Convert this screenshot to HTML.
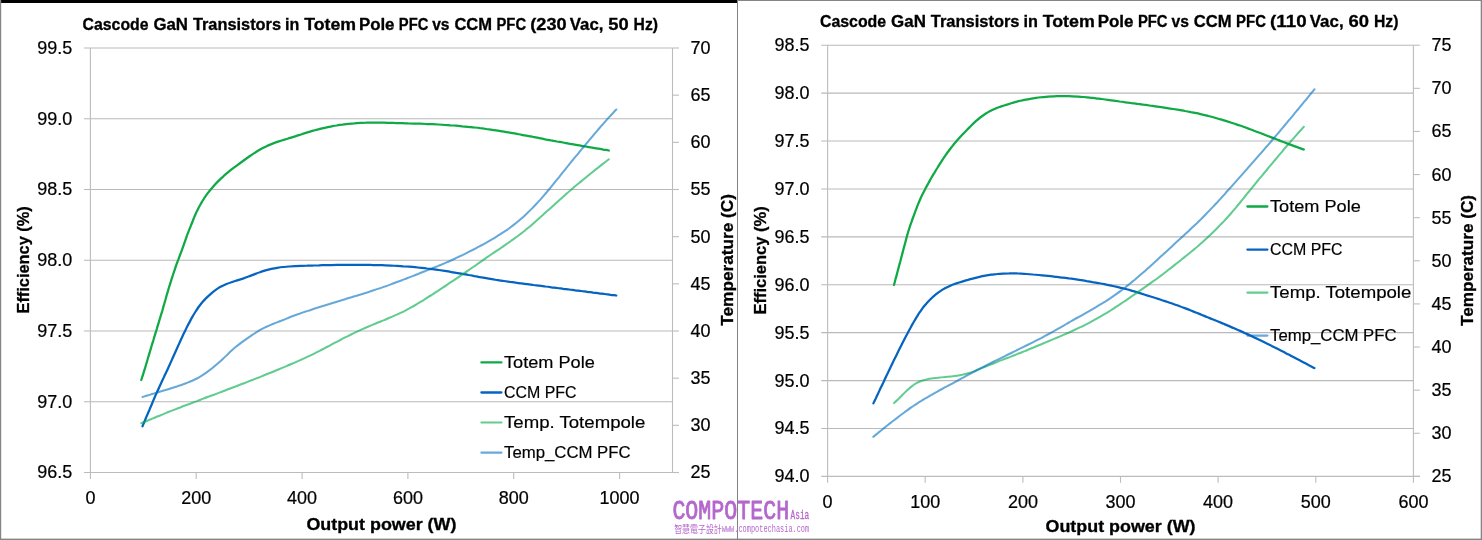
<!DOCTYPE html>
<html lang="en">
<head>
<meta charset="utf-8">
<title>Cascode GaN Transistors in Totem Pole PFC vs CCM PFC</title>
<style>
html,body{margin:0;padding:0;background:#fff;}
body{width:1482px;height:540px;overflow:hidden;}
svg{display:block;}
text{font-family:"Liberation Sans",sans-serif;fill:#000;}
.n{font-size:18.6px;stroke:#000;stroke-width:0.22px;}
.l{font-size:17.3px;stroke:#000;stroke-width:0.2px;}
.t{font-size:17.2px;font-weight:bold;stroke:#000;stroke-width:0.32px;}
.w1{font-family:"Liberation Mono","Liberation Sans",monospace;font-size:27px;fill:inherit;stroke:#b467cd;stroke-width:0.85px;stroke-linejoin:round;}
.w2{font-family:"Liberation Mono","Liberation Sans",monospace;font-size:13.5px;fill:inherit;stroke:#b467cd;stroke-width:0.3px;}
.w3{font-family:"Liberation Sans","Noto Sans CJK TC",sans-serif;font-size:10px;fill:inherit;}
.w4{font-family:"Liberation Mono","Liberation Sans",monospace;font-size:10.5px;fill:inherit;}
</style>
</head>
<body>
<svg width="1482" height="540" viewBox="0 0 1482 540">
<rect width="1482" height="540" fill="#fff"/>
<!-- left chart: 230 Vac, 50 Hz -->
<g>
<line x1="84.0" y1="48.00" x2="672.5" y2="48.00" stroke="#b9b9b9" stroke-width="1.1"/>
<text x="72.2" y="53.9" text-anchor="end" textLength="35.0" lengthAdjust="spacingAndGlyphs" class="n">99.5</text>
<line x1="84.0" y1="118.75" x2="672.5" y2="118.75" stroke="#b9b9b9" stroke-width="1.1"/>
<text x="72.2" y="124.7" text-anchor="end" textLength="35.0" lengthAdjust="spacingAndGlyphs" class="n">99.0</text>
<line x1="84.0" y1="189.50" x2="672.5" y2="189.50" stroke="#b9b9b9" stroke-width="1.1"/>
<text x="72.2" y="195.4" text-anchor="end" textLength="35.0" lengthAdjust="spacingAndGlyphs" class="n">98.5</text>
<line x1="84.0" y1="260.25" x2="672.5" y2="260.25" stroke="#b9b9b9" stroke-width="1.1"/>
<text x="72.2" y="266.1" text-anchor="end" textLength="35.0" lengthAdjust="spacingAndGlyphs" class="n">98.0</text>
<line x1="84.0" y1="331.00" x2="672.5" y2="331.00" stroke="#b9b9b9" stroke-width="1.1"/>
<text x="72.2" y="336.9" text-anchor="end" textLength="35.0" lengthAdjust="spacingAndGlyphs" class="n">97.5</text>
<line x1="84.0" y1="401.75" x2="672.5" y2="401.75" stroke="#b9b9b9" stroke-width="1.1"/>
<text x="72.2" y="407.6" text-anchor="end" textLength="35.0" lengthAdjust="spacingAndGlyphs" class="n">97.0</text>
<line x1="84.0" y1="472.50" x2="678.9" y2="472.50" stroke="#bcbcbc" stroke-width="1.1"/>
<text x="72.2" y="478.4" text-anchor="end" textLength="35.0" lengthAdjust="spacingAndGlyphs" class="n">96.5</text>
<line x1="672.5" y1="48.00" x2="678.9" y2="48.00" stroke="#bcbcbc" stroke-width="1.1"/>
<text x="690.6" y="53.9" text-anchor="start" textLength="20.0" lengthAdjust="spacingAndGlyphs" class="n">70</text>
<line x1="672.5" y1="95.17" x2="678.9" y2="95.17" stroke="#bcbcbc" stroke-width="1.1"/>
<text x="690.6" y="101.1" text-anchor="start" textLength="20.0" lengthAdjust="spacingAndGlyphs" class="n">65</text>
<line x1="672.5" y1="142.33" x2="678.9" y2="142.33" stroke="#bcbcbc" stroke-width="1.1"/>
<text x="690.6" y="148.2" text-anchor="start" textLength="20.0" lengthAdjust="spacingAndGlyphs" class="n">60</text>
<line x1="672.5" y1="189.50" x2="678.9" y2="189.50" stroke="#bcbcbc" stroke-width="1.1"/>
<text x="690.6" y="195.4" text-anchor="start" textLength="20.0" lengthAdjust="spacingAndGlyphs" class="n">55</text>
<line x1="672.5" y1="236.67" x2="678.9" y2="236.67" stroke="#bcbcbc" stroke-width="1.1"/>
<text x="690.6" y="242.6" text-anchor="start" textLength="20.0" lengthAdjust="spacingAndGlyphs" class="n">50</text>
<line x1="672.5" y1="283.83" x2="678.9" y2="283.83" stroke="#bcbcbc" stroke-width="1.1"/>
<text x="690.6" y="289.7" text-anchor="start" textLength="20.0" lengthAdjust="spacingAndGlyphs" class="n">45</text>
<line x1="672.5" y1="331.00" x2="678.9" y2="331.00" stroke="#bcbcbc" stroke-width="1.1"/>
<text x="690.6" y="336.9" text-anchor="start" textLength="20.0" lengthAdjust="spacingAndGlyphs" class="n">40</text>
<line x1="672.5" y1="378.17" x2="678.9" y2="378.17" stroke="#bcbcbc" stroke-width="1.1"/>
<text x="690.6" y="384.1" text-anchor="start" textLength="20.0" lengthAdjust="spacingAndGlyphs" class="n">35</text>
<line x1="672.5" y1="425.33" x2="678.9" y2="425.33" stroke="#bcbcbc" stroke-width="1.1"/>
<text x="690.6" y="431.2" text-anchor="start" textLength="20.0" lengthAdjust="spacingAndGlyphs" class="n">30</text>
<line x1="672.5" y1="472.50" x2="678.9" y2="472.50" stroke="#bcbcbc" stroke-width="1.1"/>
<text x="690.6" y="478.4" text-anchor="start" textLength="20.0" lengthAdjust="spacingAndGlyphs" class="n">25</text>
<line x1="90.4" y1="48.0" x2="90.4" y2="478.9" stroke="#bcbcbc" stroke-width="1.1"/>
<line x1="672.5" y1="48.0" x2="672.5" y2="472.5" stroke="#bcbcbc" stroke-width="1.1"/>
<text x="90.4" y="503.7" text-anchor="middle" textLength="10.0" lengthAdjust="spacingAndGlyphs" class="n">0</text>
<line x1="196.2" y1="472.5" x2="196.2" y2="478.9" stroke="#bcbcbc" stroke-width="1.1"/>
<text x="196.2" y="503.7" text-anchor="middle" textLength="30.0" lengthAdjust="spacingAndGlyphs" class="n">200</text>
<line x1="302.1" y1="472.5" x2="302.1" y2="478.9" stroke="#bcbcbc" stroke-width="1.1"/>
<text x="302.1" y="503.7" text-anchor="middle" textLength="30.0" lengthAdjust="spacingAndGlyphs" class="n">400</text>
<line x1="407.9" y1="472.5" x2="407.9" y2="478.9" stroke="#bcbcbc" stroke-width="1.1"/>
<text x="407.9" y="503.7" text-anchor="middle" textLength="30.0" lengthAdjust="spacingAndGlyphs" class="n">600</text>
<line x1="513.7" y1="472.5" x2="513.7" y2="478.9" stroke="#bcbcbc" stroke-width="1.1"/>
<text x="513.7" y="503.7" text-anchor="middle" textLength="30.0" lengthAdjust="spacingAndGlyphs" class="n">800</text>
<line x1="619.6" y1="472.5" x2="619.6" y2="478.9" stroke="#bcbcbc" stroke-width="1.1"/>
<text x="619.6" y="503.7" text-anchor="middle" textLength="40.0" lengthAdjust="spacingAndGlyphs" class="n">1000</text>
<line x1="481.4" y1="362.4" x2="501.4" y2="362.4" stroke="#0fa945" stroke-width="2.3" stroke-linecap="round"/>
<text x="504.0" y="368.1" textLength="90.8" lengthAdjust="spacingAndGlyphs" class="l">Totem Pole</text>
<line x1="481.4" y1="392.5" x2="501.4" y2="392.5" stroke="#0664c1" stroke-width="2.3" stroke-linecap="round"/>
<text x="504.0" y="398.2" textLength="72.6" lengthAdjust="spacingAndGlyphs" class="l">CCM PFC</text>
<line x1="481.4" y1="422.5" x2="501.4" y2="422.5" stroke="#62cd8e" stroke-width="2.2" stroke-linecap="round"/>
<text x="504.0" y="428.2" textLength="141.3" lengthAdjust="spacingAndGlyphs" class="l">Temp. Totempole</text>
<line x1="481.4" y1="452.6" x2="501.4" y2="452.6" stroke="#69a7dd" stroke-width="2.2" stroke-linecap="round"/>
<text x="504.0" y="458.3" textLength="126.6" lengthAdjust="spacingAndGlyphs" class="l">Temp_CCM PFC</text>
<path d="M141.3 380.0C141.6 379.0 142.5 376.2 143.1 374.3C143.7 372.4 144.3 370.5 144.9 368.6C145.5 366.6 146.1 364.7 146.6 362.8C147.2 360.9 147.7 359.0 148.3 357.0C148.9 355.1 149.4 353.2 150.0 351.3C150.6 349.4 151.2 347.5 151.7 345.5C152.3 343.6 152.9 341.7 153.5 339.8C154.0 337.9 154.6 336.0 155.2 334.1C155.8 332.1 156.4 330.2 157.0 328.3C157.5 326.4 158.1 324.5 158.7 322.6C159.3 320.7 159.9 318.8 160.4 316.8C161.0 314.9 161.6 313.0 162.2 311.1C162.7 309.2 163.3 307.3 163.8 305.3C164.4 303.4 164.9 301.5 165.5 299.6C166.0 297.6 166.6 295.7 167.1 293.8C167.7 291.9 168.3 290.0 168.8 288.0C169.4 286.1 170.0 284.2 170.6 282.3C171.2 280.4 171.8 278.5 172.4 276.6C173.0 274.7 173.7 272.8 174.3 270.9C174.9 269.0 175.6 267.1 176.2 265.2C176.9 263.3 177.6 261.4 178.3 259.6C179.0 257.7 179.7 255.8 180.4 254.0C181.1 252.1 181.9 250.2 182.5 248.4C183.2 246.5 183.9 244.6 184.5 242.7C185.2 240.8 185.8 238.9 186.5 237.0C187.1 235.1 187.8 233.3 188.6 231.4C189.3 229.5 190.1 227.7 190.8 225.8C191.6 224.0 192.3 222.1 193.0 220.3C193.8 218.4 194.5 216.5 195.3 214.7C196.1 212.9 197.0 211.1 197.9 209.3C198.7 207.5 199.7 205.7 200.7 204.0C201.7 202.3 202.7 200.5 203.8 198.9C204.9 197.2 206.0 195.5 207.2 193.9C208.4 192.3 209.6 190.8 210.9 189.2C212.2 187.7 213.5 186.2 214.8 184.7C216.2 183.2 217.6 181.8 219.0 180.4C220.4 179.0 221.9 177.6 223.4 176.3C224.8 174.9 226.4 173.6 227.9 172.4C229.4 171.1 231.0 169.9 232.6 168.6C234.2 167.4 235.8 166.3 237.4 165.1C239.0 163.9 240.6 162.7 242.3 161.5C243.9 160.3 245.5 159.2 247.1 158.0C248.7 156.8 250.4 155.7 252.0 154.6C253.7 153.5 255.4 152.4 257.1 151.3C258.8 150.3 260.5 149.3 262.3 148.3C264.0 147.4 265.8 146.5 267.6 145.7C269.5 144.9 271.3 144.1 273.2 143.4C275.1 142.7 277.0 142.0 278.8 141.4C280.7 140.8 282.7 140.2 284.6 139.6C286.5 139.0 288.4 138.5 290.3 137.9C292.2 137.3 294.1 136.7 296.0 136.1C297.9 135.5 299.8 134.8 301.7 134.2C303.7 133.6 305.6 133.0 307.5 132.4C309.4 131.8 311.3 131.2 313.2 130.7C315.1 130.2 317.1 129.6 319.0 129.2C320.9 128.7 322.9 128.2 324.8 127.8C326.8 127.4 328.7 127.0 330.7 126.6C332.7 126.2 334.6 125.8 336.6 125.5C338.6 125.1 340.5 124.8 342.5 124.6C344.5 124.3 346.5 124.0 348.4 123.8C350.4 123.6 352.4 123.4 354.4 123.3C356.4 123.1 358.4 123.0 360.4 122.9C362.4 122.8 364.4 122.7 366.4 122.7C368.4 122.6 370.4 122.6 372.4 122.6C374.4 122.6 376.4 122.6 378.4 122.6C380.4 122.6 382.4 122.7 384.3 122.7C386.3 122.8 388.3 122.8 390.3 122.9C392.3 122.9 394.3 123.0 396.3 123.0C398.3 123.1 400.3 123.2 402.3 123.2C404.3 123.3 406.3 123.3 408.3 123.4C410.3 123.4 412.3 123.5 414.3 123.6C416.3 123.6 418.3 123.7 420.3 123.7C422.3 123.8 424.3 123.9 426.3 124.0C428.3 124.0 430.3 124.1 432.3 124.2C434.3 124.3 436.3 124.4 438.3 124.5C440.3 124.6 442.3 124.7 444.3 124.9C446.3 125.0 448.3 125.1 450.3 125.3C452.3 125.4 454.3 125.6 456.3 125.7C458.3 125.9 460.3 126.1 462.2 126.3C464.2 126.4 466.2 126.6 468.2 126.8C470.2 127.0 472.2 127.3 474.2 127.5C476.2 127.7 478.1 127.9 480.1 128.2C482.1 128.4 484.1 128.7 486.1 129.0C488.1 129.3 490.0 129.5 492.0 129.8C494.0 130.1 496.0 130.4 497.9 130.7C499.9 131.1 501.9 131.4 503.9 131.7C505.8 132.0 507.8 132.4 509.8 132.7C511.8 133.0 513.7 133.4 515.7 133.7C517.7 134.1 519.6 134.4 521.6 134.8C523.6 135.2 525.5 135.5 527.5 135.9C529.5 136.3 531.4 136.6 533.4 137.0C535.4 137.4 537.3 137.8 539.3 138.1C541.3 138.5 543.2 138.9 545.2 139.3C547.1 139.6 549.1 140.0 551.1 140.4C553.0 140.7 555.0 141.1 557.0 141.5C558.9 141.8 560.9 142.2 562.9 142.5C564.8 142.9 566.8 143.2 568.8 143.6C570.8 143.9 572.7 144.3 574.7 144.6C576.7 144.9 578.6 145.3 580.6 145.6C582.5 146.0 584.5 146.3 586.4 146.6C588.4 147.0 590.3 147.3 592.2 147.6C594.1 148.0 596.0 148.3 597.9 148.6C599.7 148.9 601.6 149.2 603.4 149.6C605.2 149.9 607.9 150.3 608.8 150.5" fill="none" stroke="#0fa945" stroke-width="2.25" stroke-linecap="round" stroke-linejoin="round"/>
<path d="M142.5 426.3C142.9 425.4 144.0 422.6 144.8 420.8C145.6 418.9 146.4 417.1 147.1 415.2C147.9 413.4 148.7 411.5 149.5 409.7C150.2 407.9 151.0 406.0 151.8 404.2C152.6 402.3 153.4 400.5 154.1 398.7C154.9 396.8 155.7 395.0 156.5 393.1C157.3 391.3 158.2 389.5 159.0 387.7C159.8 385.9 160.7 384.0 161.5 382.2C162.4 380.4 163.2 378.6 164.1 376.8C164.9 375.0 165.8 373.2 166.6 371.4C167.5 369.6 168.3 367.7 169.1 365.9C170.0 364.1 170.8 362.3 171.6 360.4C172.4 358.6 173.2 356.8 174.0 355.0C174.8 353.1 175.7 351.3 176.5 349.5C177.3 347.7 178.1 345.8 179.0 344.0C179.8 342.2 180.6 340.4 181.5 338.6C182.3 336.8 183.1 334.9 184.0 333.1C184.9 331.3 185.7 329.5 186.6 327.7C187.5 325.9 188.4 324.2 189.4 322.4C190.3 320.6 191.2 318.9 192.2 317.1C193.2 315.4 194.2 313.7 195.3 312.0C196.4 310.3 197.5 308.6 198.6 307.0C199.8 305.4 201.0 303.8 202.3 302.3C203.6 300.8 205.0 299.3 206.4 297.9C207.8 296.5 209.3 295.1 210.8 293.8C212.3 292.5 213.8 291.2 215.4 290.1C217.1 288.9 218.7 287.8 220.5 286.8C222.2 285.9 224.0 285.0 225.9 284.2C227.7 283.5 229.6 282.8 231.5 282.2C233.4 281.6 235.3 281.0 237.2 280.4C239.1 279.8 241.0 279.2 242.9 278.6C244.8 277.9 246.7 277.2 248.6 276.5C250.4 275.8 252.3 275.1 254.2 274.4C256.0 273.7 257.9 272.9 259.8 272.3C261.7 271.6 263.6 271.0 265.5 270.4C267.4 269.9 269.3 269.4 271.3 268.9C273.2 268.5 275.2 268.1 277.2 267.8C279.1 267.5 281.1 267.2 283.1 267.0C285.1 266.8 287.1 266.7 289.1 266.5C291.1 266.4 293.1 266.3 295.1 266.2C297.1 266.1 299.1 266.0 301.1 265.9C303.1 265.8 305.1 265.7 307.1 265.7C309.1 265.6 311.1 265.5 313.1 265.5C315.1 265.4 317.1 265.3 319.1 265.3C321.1 265.2 323.1 265.2 325.1 265.1C327.1 265.1 329.1 265.0 331.1 265.0C333.1 265.0 335.1 265.0 337.1 264.9C339.1 264.9 341.1 264.9 343.1 264.9C345.1 264.9 347.1 264.8 349.1 264.8C351.1 264.8 353.1 264.8 355.1 264.8C357.1 264.8 359.1 264.8 361.1 264.9C363.1 264.9 365.1 264.9 367.1 264.9C369.1 264.9 371.1 265.0 373.1 265.0C375.1 265.0 377.1 265.1 379.1 265.1C381.1 265.2 383.1 265.2 385.1 265.3C387.1 265.4 389.1 265.5 391.0 265.6C393.0 265.7 395.0 265.8 397.0 265.9C399.0 266.0 401.0 266.1 403.0 266.3C405.0 266.4 407.0 266.6 409.0 266.7C411.0 266.9 413.0 267.1 415.0 267.2C417.0 267.4 419.0 267.6 421.0 267.8C422.9 268.0 424.9 268.2 426.9 268.5C428.9 268.7 430.9 269.0 432.9 269.2C434.8 269.5 436.8 269.7 438.8 270.0C440.8 270.3 442.8 270.6 444.7 270.9C446.7 271.2 448.7 271.5 450.7 271.9C452.6 272.2 454.6 272.5 456.6 272.9C458.5 273.2 460.5 273.6 462.5 273.9C464.5 274.3 466.4 274.6 468.4 275.0C470.4 275.3 472.3 275.7 474.3 276.1C476.3 276.4 478.2 276.8 480.2 277.2C482.2 277.5 484.1 277.9 486.1 278.2C488.1 278.6 490.0 278.9 492.0 279.2C494.0 279.5 496.0 279.9 497.9 280.2C499.9 280.5 501.9 280.7 503.9 281.0C505.8 281.3 507.8 281.6 509.8 281.9C511.8 282.1 513.8 282.4 515.8 282.7C517.7 282.9 519.7 283.2 521.7 283.4C523.7 283.7 525.7 283.9 527.7 284.2C529.6 284.5 531.6 284.7 533.6 285.0C535.6 285.2 537.6 285.5 539.6 285.7C541.5 286.0 543.5 286.2 545.5 286.5C547.5 286.7 549.5 287.0 551.5 287.3C553.4 287.5 555.4 287.8 557.4 288.0C559.4 288.3 561.4 288.5 563.4 288.8C565.3 289.0 567.3 289.3 569.3 289.5C571.3 289.8 573.3 290.0 575.3 290.3C577.2 290.5 579.2 290.8 581.2 291.0C583.2 291.3 585.2 291.5 587.2 291.8C589.1 292.1 591.1 292.3 593.1 292.6C595.0 292.8 597.0 293.1 599.0 293.3C600.9 293.5 602.9 293.8 604.8 294.0C606.7 294.3 608.7 294.5 610.6 294.8C612.5 295.0 615.3 295.4 616.3 295.5" fill="none" stroke="#0664c1" stroke-width="2.25" stroke-linecap="round" stroke-linejoin="round"/>
<path d="M141.3 423.3C142.2 422.9 145.0 421.7 146.8 421.0C148.7 420.2 150.5 419.4 152.4 418.6C154.2 417.9 156.0 417.1 157.9 416.3C159.7 415.6 161.6 414.8 163.4 414.1C165.3 413.3 167.2 412.6 169.0 411.8C170.9 411.1 172.7 410.4 174.6 409.6C176.5 408.9 178.3 408.2 180.2 407.5C182.1 406.7 183.9 406.0 185.8 405.3C187.7 404.6 189.5 403.9 191.4 403.2C193.3 402.5 195.1 401.8 197.0 401.1C198.9 400.3 200.8 399.6 202.6 398.9C204.5 398.2 206.4 397.5 208.2 396.8C210.1 396.1 212.0 395.4 213.9 394.7C215.7 394.0 217.6 393.3 219.5 392.6C221.3 391.9 223.2 391.2 225.1 390.5C227.0 389.8 228.8 389.1 230.7 388.3C232.6 387.6 234.4 386.9 236.3 386.2C238.2 385.5 240.0 384.8 241.9 384.0C243.8 383.3 245.6 382.6 247.5 381.9C249.4 381.1 251.2 380.4 253.1 379.7C254.9 378.9 256.8 378.2 258.7 377.5C260.5 376.7 262.4 376.0 264.2 375.2C266.1 374.5 267.9 373.8 269.8 373.0C271.6 372.3 273.5 371.5 275.3 370.7C277.2 370.0 279.0 369.2 280.9 368.4C282.7 367.7 284.6 366.9 286.4 366.1C288.3 365.4 290.1 364.6 291.9 363.8C293.8 363.0 295.6 362.2 297.4 361.4C299.3 360.6 301.1 359.8 302.9 358.9C304.7 358.1 306.6 357.3 308.4 356.4C310.2 355.6 312.0 354.7 313.8 353.8C315.6 352.9 317.3 352.0 319.1 351.1C320.9 350.2 322.7 349.3 324.4 348.4C326.2 347.4 328.0 346.5 329.7 345.6C331.5 344.6 333.3 343.7 335.0 342.7C336.8 341.8 338.6 340.9 340.4 340.0C342.1 339.0 343.9 338.1 345.7 337.2C347.5 336.3 349.3 335.4 351.1 334.5C352.9 333.7 354.7 332.8 356.5 331.9C358.3 331.1 360.1 330.2 361.9 329.4C363.7 328.6 365.5 327.8 367.4 327.0C369.2 326.2 371.0 325.4 372.9 324.6C374.7 323.8 376.6 323.1 378.4 322.3C380.3 321.6 382.1 320.8 384.0 320.1C385.8 319.3 387.7 318.6 389.5 317.8C391.4 317.0 393.2 316.2 395.0 315.4C396.9 314.6 398.7 313.8 400.5 312.9C402.3 312.1 404.1 311.2 405.8 310.3C407.6 309.3 409.4 308.4 411.1 307.4C412.9 306.5 414.6 305.5 416.3 304.5C418.0 303.4 419.7 302.4 421.4 301.4C423.1 300.3 424.8 299.3 426.5 298.2C428.2 297.1 429.9 296.0 431.6 295.0C433.3 293.9 434.9 292.8 436.6 291.7C438.3 290.6 439.9 289.5 441.6 288.4C443.3 287.3 445.0 286.2 446.6 285.1C448.3 284.0 449.9 282.9 451.6 281.7C453.3 280.6 454.9 279.5 456.6 278.4C458.2 277.3 459.9 276.2 461.6 275.0C463.2 273.9 464.9 272.8 466.5 271.6C468.1 270.5 469.8 269.4 471.4 268.2C473.1 267.1 474.7 265.9 476.4 264.8C478.0 263.6 479.6 262.5 481.3 261.4C482.9 260.2 484.6 259.1 486.2 257.9C487.8 256.8 489.5 255.7 491.1 254.5C492.8 253.4 494.4 252.3 496.1 251.1C497.7 250.0 499.4 248.9 501.1 247.8C502.7 246.6 504.4 245.5 506.0 244.4C507.7 243.3 509.3 242.1 510.9 241.0C512.6 239.8 514.2 238.7 515.8 237.5C517.4 236.3 519.0 235.1 520.6 233.9C522.2 232.7 523.7 231.5 525.3 230.2C526.8 228.9 528.4 227.7 529.9 226.4C531.4 225.1 532.9 223.8 534.4 222.4C535.9 221.1 537.4 219.8 538.9 218.5C540.4 217.1 541.9 215.8 543.4 214.5C544.9 213.1 546.4 211.8 547.8 210.4C549.3 209.1 550.8 207.8 552.3 206.4C553.8 205.1 555.3 203.7 556.8 202.4C558.2 201.1 559.7 199.7 561.2 198.4C562.7 197.1 564.2 195.8 565.7 194.4C567.2 193.1 568.7 191.8 570.3 190.5C571.8 189.2 573.3 187.9 574.8 186.6C576.3 185.3 577.9 184.0 579.4 182.8C580.9 181.5 582.5 180.2 584.0 178.9C585.6 177.7 587.1 176.4 588.6 175.2C590.2 173.9 591.7 172.7 593.2 171.5C594.8 170.2 596.3 169.0 597.8 167.9C599.3 166.7 600.8 165.5 602.2 164.4C603.7 163.2 605.5 161.8 606.6 161.0C607.7 160.1 608.4 159.6 608.8 159.3" fill="none" stroke="#02ac4c" stroke-width="2.05" stroke-opacity="0.62" stroke-linecap="round" stroke-linejoin="round"/>
<path d="M142.5 397.0C143.5 396.7 146.3 395.9 148.2 395.3C150.2 394.7 152.1 394.1 154.0 393.6C155.9 393.0 157.8 392.4 159.7 391.8C161.7 391.3 163.6 390.7 165.5 390.1C167.4 389.5 169.3 388.9 171.2 388.3C173.1 387.7 175.0 387.1 176.9 386.5C178.8 385.8 180.7 385.2 182.6 384.5C184.5 383.8 186.3 383.1 188.2 382.4C190.0 381.6 191.9 380.9 193.7 380.0C195.5 379.2 197.3 378.3 199.0 377.3C200.8 376.3 202.5 375.2 204.1 374.1C205.8 373.0 207.4 371.8 209.0 370.6C210.6 369.4 212.2 368.2 213.7 366.9C215.3 365.6 216.8 364.3 218.3 363.0C219.8 361.7 221.3 360.4 222.8 359.0C224.2 357.7 225.7 356.3 227.1 354.9C228.6 353.5 230.0 352.1 231.4 350.8C232.9 349.4 234.4 348.1 235.9 346.8C237.5 345.5 239.0 344.3 240.6 343.1C242.2 341.9 243.9 340.8 245.5 339.6C247.2 338.5 248.8 337.3 250.5 336.2C252.1 335.1 253.7 333.9 255.4 332.8C257.1 331.8 258.8 330.7 260.6 329.7C262.3 328.8 264.1 327.8 265.9 327.0C267.7 326.2 269.5 325.4 271.4 324.6C273.2 323.9 275.1 323.1 277.0 322.4C278.8 321.7 280.7 320.9 282.5 320.2C284.4 319.4 286.3 318.7 288.1 318.0C290.0 317.2 291.8 316.5 293.7 315.8C295.6 315.1 297.5 314.4 299.4 313.8C301.2 313.1 303.1 312.4 305.0 311.8C306.9 311.2 308.8 310.5 310.7 309.9C312.6 309.3 314.5 308.7 316.4 308.0C318.3 307.4 320.2 306.8 322.1 306.2C324.0 305.6 325.9 305.0 327.9 304.4C329.8 303.9 331.7 303.3 333.6 302.7C335.5 302.1 337.4 301.5 339.3 300.9C341.3 300.4 343.2 299.8 345.1 299.2C347.0 298.6 348.9 298.1 350.8 297.5C352.7 296.9 354.7 296.3 356.6 295.7C358.5 295.2 360.4 294.6 362.3 294.0C364.2 293.4 366.1 292.8 368.0 292.2C369.9 291.6 371.8 291.0 373.7 290.3C375.6 289.7 377.5 289.1 379.4 288.4C381.3 287.8 383.2 287.1 385.1 286.4C387.0 285.8 388.8 285.1 390.7 284.4C392.6 283.7 394.5 283.0 396.3 282.3C398.2 281.6 400.1 280.9 402.0 280.2C403.8 279.5 405.7 278.8 407.6 278.0C409.4 277.3 411.3 276.6 413.2 275.9C415.0 275.2 416.9 274.4 418.7 273.7C420.6 273.0 422.5 272.2 424.3 271.5C426.2 270.8 428.1 270.0 429.9 269.3C431.8 268.6 433.6 267.8 435.5 267.0C437.3 266.3 439.2 265.5 441.0 264.8C442.9 264.0 444.7 263.2 446.5 262.4C448.4 261.6 450.2 260.8 452.0 260.0C453.8 259.1 455.6 258.3 457.4 257.4C459.3 256.6 461.1 255.7 462.9 254.9C464.7 254.0 466.4 253.1 468.2 252.2C470.0 251.3 471.8 250.4 473.6 249.5C475.4 248.6 477.1 247.6 478.9 246.7C480.7 245.7 482.4 244.8 484.2 243.8C485.9 242.9 487.7 241.9 489.4 240.9C491.1 239.9 492.8 238.9 494.6 237.9C496.3 236.8 498.0 235.8 499.6 234.7C501.3 233.6 503.0 232.5 504.7 231.4C506.3 230.3 507.9 229.2 509.6 228.0C511.2 226.8 512.8 225.6 514.3 224.4C515.9 223.1 517.4 221.9 519.0 220.6C520.5 219.3 522.0 218.0 523.5 216.7C525.0 215.3 526.4 214.0 527.8 212.6C529.3 211.2 530.7 209.8 532.1 208.4C533.5 206.9 534.9 205.5 536.2 204.0C537.6 202.6 538.9 201.1 540.3 199.6C541.6 198.1 542.9 196.6 544.2 195.1C545.5 193.6 546.8 192.1 548.1 190.5C549.4 189.0 550.7 187.5 551.9 185.9C553.2 184.4 554.5 182.8 555.7 181.2C557.0 179.7 558.2 178.1 559.5 176.6C560.7 175.0 562.0 173.4 563.2 171.9C564.5 170.3 565.7 168.8 567.0 167.2C568.2 165.6 569.5 164.1 570.7 162.5C572.0 161.0 573.3 159.4 574.5 157.9C575.8 156.4 577.1 154.8 578.4 153.3C579.6 151.7 580.9 150.2 582.2 148.7C583.5 147.1 584.8 145.6 586.0 144.0C587.3 142.5 588.6 141.0 589.9 139.4C591.2 137.9 592.4 136.4 593.7 134.8C595.0 133.3 596.3 131.8 597.6 130.3C598.9 128.8 600.2 127.2 601.5 125.7C602.8 124.3 604.1 122.8 605.4 121.3C606.7 119.8 608.0 118.4 609.4 116.9C610.7 115.5 612.2 113.9 613.3 112.7C614.5 111.4 615.8 110.0 616.3 109.5" fill="none" stroke="#0070c0" stroke-width="2.05" stroke-opacity="0.6" stroke-linecap="round" stroke-linejoin="round"/>
<text y="30.3" class="t"><tspan x="82.6" textLength="65.9" lengthAdjust="spacingAndGlyphs">Cascode</tspan> <tspan x="153.4" textLength="34.6" lengthAdjust="spacingAndGlyphs">GaN</tspan> <tspan x="192.9" textLength="88.2" lengthAdjust="spacingAndGlyphs">Transistors</tspan> <tspan x="285.0" textLength="14.3" lengthAdjust="spacingAndGlyphs">in</tspan> <tspan x="304.2" textLength="51.8" lengthAdjust="spacingAndGlyphs">Totem</tspan> <tspan x="358.9" textLength="35.6" lengthAdjust="spacingAndGlyphs">Pole</tspan> <tspan x="398.8" textLength="29.5" lengthAdjust="spacingAndGlyphs">PFC</tspan> <tspan x="432.2" textLength="17.3" lengthAdjust="spacingAndGlyphs">vs</tspan> <tspan x="454.4" textLength="37.7" lengthAdjust="spacingAndGlyphs">CCM</tspan> <tspan x="496.5" textLength="29.6" lengthAdjust="spacingAndGlyphs">PFC</tspan> <tspan x="530.3" textLength="36.3" lengthAdjust="spacingAndGlyphs">(230</tspan> <tspan x="569.8" textLength="33.6" lengthAdjust="spacingAndGlyphs">Vac,</tspan> <tspan x="608.3" textLength="20.4" lengthAdjust="spacingAndGlyphs">50</tspan> <tspan x="633.6" textLength="24.4" lengthAdjust="spacingAndGlyphs">Hz)</tspan></text>
<text x="381.4" y="530.3" text-anchor="middle" textLength="150" lengthAdjust="spacingAndGlyphs" class="t">Output power (W)</text>
<text transform="translate(29.0 259.9) rotate(-90)" text-anchor="middle" textLength="107.2" lengthAdjust="spacingAndGlyphs" class="t">Efficiency (%)</text>
<text transform="translate(732.8 259.9) rotate(-90)" text-anchor="middle" textLength="131.6" lengthAdjust="spacingAndGlyphs" class="t">Temperature (C)</text>
</g>
<!-- right chart: 110 Vac, 60 Hz -->
<g>
<line x1="821.2" y1="45.20" x2="1413.4" y2="45.20" stroke="#b9b9b9" stroke-width="1.1"/>
<text x="809.6" y="51.1" text-anchor="end" textLength="35.0" lengthAdjust="spacingAndGlyphs" class="n">98.5</text>
<line x1="821.2" y1="93.11" x2="1413.4" y2="93.11" stroke="#b9b9b9" stroke-width="1.1"/>
<text x="809.6" y="99.0" text-anchor="end" textLength="35.0" lengthAdjust="spacingAndGlyphs" class="n">98.0</text>
<line x1="821.2" y1="141.02" x2="1413.4" y2="141.02" stroke="#b9b9b9" stroke-width="1.1"/>
<text x="809.6" y="146.9" text-anchor="end" textLength="35.0" lengthAdjust="spacingAndGlyphs" class="n">97.5</text>
<line x1="821.2" y1="188.93" x2="1413.4" y2="188.93" stroke="#b9b9b9" stroke-width="1.1"/>
<text x="809.6" y="194.8" text-anchor="end" textLength="35.0" lengthAdjust="spacingAndGlyphs" class="n">97.0</text>
<line x1="821.2" y1="236.84" x2="1413.4" y2="236.84" stroke="#b9b9b9" stroke-width="1.1"/>
<text x="809.6" y="242.7" text-anchor="end" textLength="35.0" lengthAdjust="spacingAndGlyphs" class="n">96.5</text>
<line x1="821.2" y1="284.76" x2="1413.4" y2="284.76" stroke="#b9b9b9" stroke-width="1.1"/>
<text x="809.6" y="290.7" text-anchor="end" textLength="35.0" lengthAdjust="spacingAndGlyphs" class="n">96.0</text>
<line x1="821.2" y1="332.67" x2="1413.4" y2="332.67" stroke="#b9b9b9" stroke-width="1.1"/>
<text x="809.6" y="338.6" text-anchor="end" textLength="35.0" lengthAdjust="spacingAndGlyphs" class="n">95.5</text>
<line x1="821.2" y1="380.58" x2="1413.4" y2="380.58" stroke="#b9b9b9" stroke-width="1.1"/>
<text x="809.6" y="386.5" text-anchor="end" textLength="35.0" lengthAdjust="spacingAndGlyphs" class="n">95.0</text>
<line x1="821.2" y1="428.49" x2="1413.4" y2="428.49" stroke="#b9b9b9" stroke-width="1.1"/>
<text x="809.6" y="434.4" text-anchor="end" textLength="35.0" lengthAdjust="spacingAndGlyphs" class="n">94.5</text>
<line x1="821.2" y1="476.40" x2="1419.8" y2="476.40" stroke="#bcbcbc" stroke-width="1.1"/>
<text x="809.6" y="482.3" text-anchor="end" textLength="35.0" lengthAdjust="spacingAndGlyphs" class="n">94.0</text>
<line x1="1413.4" y1="45.20" x2="1419.8" y2="45.20" stroke="#bcbcbc" stroke-width="1.1"/>
<text x="1431.4" y="51.1" text-anchor="start" textLength="20.0" lengthAdjust="spacingAndGlyphs" class="n">75</text>
<line x1="1413.4" y1="88.32" x2="1419.8" y2="88.32" stroke="#bcbcbc" stroke-width="1.1"/>
<text x="1431.4" y="94.2" text-anchor="start" textLength="20.0" lengthAdjust="spacingAndGlyphs" class="n">70</text>
<line x1="1413.4" y1="131.44" x2="1419.8" y2="131.44" stroke="#bcbcbc" stroke-width="1.1"/>
<text x="1431.4" y="137.3" text-anchor="start" textLength="20.0" lengthAdjust="spacingAndGlyphs" class="n">65</text>
<line x1="1413.4" y1="174.56" x2="1419.8" y2="174.56" stroke="#bcbcbc" stroke-width="1.1"/>
<text x="1431.4" y="180.5" text-anchor="start" textLength="20.0" lengthAdjust="spacingAndGlyphs" class="n">60</text>
<line x1="1413.4" y1="217.68" x2="1419.8" y2="217.68" stroke="#bcbcbc" stroke-width="1.1"/>
<text x="1431.4" y="223.6" text-anchor="start" textLength="20.0" lengthAdjust="spacingAndGlyphs" class="n">55</text>
<line x1="1413.4" y1="260.80" x2="1419.8" y2="260.80" stroke="#bcbcbc" stroke-width="1.1"/>
<text x="1431.4" y="266.7" text-anchor="start" textLength="20.0" lengthAdjust="spacingAndGlyphs" class="n">50</text>
<line x1="1413.4" y1="303.92" x2="1419.8" y2="303.92" stroke="#bcbcbc" stroke-width="1.1"/>
<text x="1431.4" y="309.8" text-anchor="start" textLength="20.0" lengthAdjust="spacingAndGlyphs" class="n">45</text>
<line x1="1413.4" y1="347.04" x2="1419.8" y2="347.04" stroke="#bcbcbc" stroke-width="1.1"/>
<text x="1431.4" y="352.9" text-anchor="start" textLength="20.0" lengthAdjust="spacingAndGlyphs" class="n">40</text>
<line x1="1413.4" y1="390.16" x2="1419.8" y2="390.16" stroke="#bcbcbc" stroke-width="1.1"/>
<text x="1431.4" y="396.1" text-anchor="start" textLength="20.0" lengthAdjust="spacingAndGlyphs" class="n">35</text>
<line x1="1413.4" y1="433.28" x2="1419.8" y2="433.28" stroke="#bcbcbc" stroke-width="1.1"/>
<text x="1431.4" y="439.2" text-anchor="start" textLength="20.0" lengthAdjust="spacingAndGlyphs" class="n">30</text>
<line x1="1413.4" y1="476.40" x2="1419.8" y2="476.40" stroke="#bcbcbc" stroke-width="1.1"/>
<text x="1431.4" y="482.3" text-anchor="start" textLength="20.0" lengthAdjust="spacingAndGlyphs" class="n">25</text>
<line x1="827.6" y1="45.2" x2="827.6" y2="482.8" stroke="#bcbcbc" stroke-width="1.1"/>
<line x1="1413.4" y1="45.2" x2="1413.4" y2="476.4" stroke="#bcbcbc" stroke-width="1.1"/>
<text x="827.6" y="507.8" text-anchor="middle" textLength="10.0" lengthAdjust="spacingAndGlyphs" class="n">0</text>
<line x1="925.2" y1="476.4" x2="925.2" y2="482.8" stroke="#bcbcbc" stroke-width="1.1"/>
<text x="925.2" y="507.8" text-anchor="middle" textLength="30.0" lengthAdjust="spacingAndGlyphs" class="n">100</text>
<line x1="1022.9" y1="476.4" x2="1022.9" y2="482.8" stroke="#bcbcbc" stroke-width="1.1"/>
<text x="1022.9" y="507.8" text-anchor="middle" textLength="30.0" lengthAdjust="spacingAndGlyphs" class="n">200</text>
<line x1="1120.5" y1="476.4" x2="1120.5" y2="482.8" stroke="#bcbcbc" stroke-width="1.1"/>
<text x="1120.5" y="507.8" text-anchor="middle" textLength="30.0" lengthAdjust="spacingAndGlyphs" class="n">300</text>
<line x1="1218.1" y1="476.4" x2="1218.1" y2="482.8" stroke="#bcbcbc" stroke-width="1.1"/>
<text x="1218.1" y="507.8" text-anchor="middle" textLength="30.0" lengthAdjust="spacingAndGlyphs" class="n">400</text>
<line x1="1315.8" y1="476.4" x2="1315.8" y2="482.8" stroke="#bcbcbc" stroke-width="1.1"/>
<text x="1315.8" y="507.8" text-anchor="middle" textLength="30.0" lengthAdjust="spacingAndGlyphs" class="n">500</text>
<line x1="1413.4" y1="476.4" x2="1413.4" y2="482.8" stroke="#bcbcbc" stroke-width="1.1"/>
<text x="1413.4" y="507.8" text-anchor="middle" textLength="30.0" lengthAdjust="spacingAndGlyphs" class="n">600</text>
<line x1="1247.4" y1="206.5" x2="1267.4" y2="206.5" stroke="#0fa945" stroke-width="2.3" stroke-linecap="round"/>
<text x="1270.0" y="212.2" textLength="90.8" lengthAdjust="spacingAndGlyphs" class="l">Totem Pole</text>
<line x1="1247.4" y1="249.6" x2="1267.4" y2="249.6" stroke="#0664c1" stroke-width="2.3" stroke-linecap="round"/>
<text x="1270.0" y="255.2" textLength="72.6" lengthAdjust="spacingAndGlyphs" class="l">CCM PFC</text>
<line x1="1247.4" y1="292.6" x2="1267.4" y2="292.6" stroke="#62cd8e" stroke-width="2.2" stroke-linecap="round"/>
<text x="1270.0" y="298.3" textLength="141.3" lengthAdjust="spacingAndGlyphs" class="l">Temp. Totempole</text>
<line x1="1247.4" y1="335.6" x2="1267.4" y2="335.6" stroke="#69a7dd" stroke-width="2.2" stroke-linecap="round"/>
<text x="1270.0" y="341.3" textLength="126.6" lengthAdjust="spacingAndGlyphs" class="l">Temp_CCM PFC</text>
<path d="M894.0 285.0C894.3 284.0 895.0 281.1 895.5 279.2C896.1 277.3 896.6 275.3 897.1 273.4C897.6 271.5 898.1 269.5 898.6 267.6C899.1 265.7 899.6 263.7 900.2 261.8C900.7 259.9 901.2 257.9 901.7 256.0C902.2 254.1 902.7 252.1 903.2 250.2C903.7 248.3 904.2 246.3 904.8 244.4C905.3 242.5 905.8 240.5 906.3 238.6C906.8 236.7 907.3 234.7 907.9 232.8C908.5 230.9 909.1 229.0 909.7 227.1C910.3 225.2 911.0 223.3 911.7 221.4C912.3 219.5 913.0 217.7 913.7 215.8C914.4 213.9 915.1 212.0 915.8 210.2C916.5 208.3 917.2 206.4 917.9 204.6C918.7 202.7 919.5 200.9 920.3 199.0C921.1 197.2 922.0 195.4 922.9 193.6C923.8 191.8 924.7 190.1 925.6 188.3C926.6 186.5 927.5 184.8 928.5 183.0C929.5 181.3 930.4 179.5 931.4 177.8C932.4 176.1 933.4 174.3 934.5 172.6C935.5 170.9 936.5 169.2 937.6 167.5C938.6 165.8 939.7 164.1 940.8 162.4C941.8 160.7 943.0 159.1 944.1 157.4C945.2 155.8 946.4 154.1 947.5 152.5C948.7 150.9 949.9 149.3 951.1 147.7C952.3 146.1 953.6 144.6 954.9 143.0C956.2 141.5 957.5 140.0 958.8 138.5C960.2 137.0 961.5 135.6 962.9 134.1C964.3 132.7 965.7 131.2 967.1 129.8C968.5 128.4 969.9 126.9 971.3 125.5C972.7 124.1 974.2 122.7 975.6 121.4C977.1 120.1 978.6 118.7 980.2 117.5C981.8 116.3 983.4 115.1 985.1 114.0C986.7 112.9 988.5 111.9 990.2 111.0C992.0 110.1 993.8 109.3 995.7 108.5C997.5 107.7 999.4 107.1 1001.3 106.4C1003.2 105.8 1005.1 105.2 1007.0 104.6C1008.9 104.0 1010.8 103.4 1012.7 102.8C1014.7 102.3 1016.6 101.7 1018.5 101.2C1020.4 100.7 1022.4 100.3 1024.3 99.9C1026.3 99.5 1028.3 99.1 1030.2 98.8C1032.2 98.5 1034.2 98.2 1036.1 97.9C1038.1 97.6 1040.1 97.4 1042.1 97.2C1044.0 96.9 1046.0 96.8 1048.0 96.6C1050.0 96.5 1052.0 96.4 1054.0 96.3C1056.0 96.2 1058.0 96.2 1060.0 96.1C1062.0 96.1 1064.0 96.1 1066.0 96.1C1068.0 96.2 1070.0 96.2 1072.0 96.3C1074.0 96.4 1076.0 96.5 1078.0 96.6C1079.9 96.7 1081.9 96.9 1083.9 97.0C1085.9 97.2 1087.9 97.4 1089.9 97.6C1091.9 97.8 1093.9 98.1 1095.9 98.3C1097.8 98.5 1099.8 98.8 1101.8 99.0C1103.8 99.3 1105.8 99.6 1107.8 99.8C1109.7 100.1 1111.7 100.4 1113.7 100.6C1115.7 100.9 1117.7 101.2 1119.6 101.5C1121.6 101.7 1123.6 102.0 1125.6 102.3C1127.6 102.5 1129.5 102.8 1131.5 103.1C1133.5 103.3 1135.5 103.6 1137.5 103.9C1139.5 104.1 1141.4 104.4 1143.4 104.7C1145.4 104.9 1147.4 105.2 1149.4 105.5C1151.3 105.8 1153.3 106.0 1155.3 106.3C1157.3 106.6 1159.3 106.9 1161.2 107.2C1163.2 107.5 1165.2 107.8 1167.2 108.1C1169.2 108.4 1171.1 108.7 1173.1 109.0C1175.1 109.3 1177.1 109.6 1179.0 109.9C1181.0 110.3 1183.0 110.6 1184.9 111.0C1186.9 111.3 1188.9 111.7 1190.8 112.1C1192.8 112.4 1194.8 112.8 1196.7 113.2C1198.7 113.7 1200.6 114.1 1202.6 114.6C1204.5 115.0 1206.4 115.5 1208.4 116.0C1210.3 116.5 1212.3 117.0 1214.2 117.5C1216.1 118.0 1218.0 118.6 1219.9 119.2C1221.9 119.7 1223.8 120.3 1225.7 120.9C1227.6 121.5 1229.5 122.1 1231.4 122.7C1233.3 123.3 1235.2 123.9 1237.1 124.6C1239.0 125.2 1240.9 125.9 1242.8 126.5C1244.7 127.2 1246.5 127.9 1248.4 128.6C1250.3 129.3 1252.2 129.9 1254.0 130.7C1255.9 131.4 1257.8 132.1 1259.6 132.8C1261.5 133.5 1263.4 134.2 1265.2 135.0C1267.1 135.7 1269.0 136.4 1270.8 137.1C1272.7 137.9 1274.5 138.6 1276.4 139.3C1278.3 140.0 1280.1 140.8 1282.0 141.5C1283.8 142.2 1285.7 142.9 1287.5 143.6C1289.3 144.3 1291.2 145.0 1293.0 145.6C1294.8 146.3 1296.6 146.9 1298.4 147.6C1300.2 148.2 1302.9 149.2 1303.8 149.5" fill="none" stroke="#0fa945" stroke-width="2.25" stroke-linecap="round" stroke-linejoin="round"/>
<path d="M873.4 403.4C873.8 402.5 875.1 399.8 876.0 398.0C876.8 396.2 877.7 394.4 878.5 392.6C879.4 390.7 880.2 388.9 881.1 387.1C882.0 385.3 882.8 383.5 883.7 381.7C884.5 379.9 885.4 378.1 886.2 376.3C887.1 374.5 888.0 372.7 888.8 370.9C889.7 369.1 890.5 367.3 891.4 365.5C892.3 363.7 893.1 361.9 894.0 360.1C894.9 358.3 895.8 356.5 896.7 354.7C897.6 352.9 898.4 351.1 899.3 349.3C900.2 347.5 901.1 345.7 902.0 343.9C903.0 342.2 903.9 340.4 904.8 338.6C905.7 336.8 906.6 335.1 907.6 333.3C908.5 331.5 909.4 329.8 910.4 328.0C911.3 326.2 912.3 324.5 913.3 322.7C914.3 321.0 915.3 319.3 916.3 317.6C917.4 315.9 918.4 314.2 919.5 312.5C920.7 310.9 921.8 309.2 923.0 307.6C924.3 306.1 925.5 304.5 926.9 303.0C928.2 301.6 929.6 300.1 931.0 298.7C932.5 297.3 933.9 296.0 935.5 294.7C937.0 293.4 938.6 292.2 940.3 291.1C941.9 290.0 943.6 289.0 945.4 288.0C947.1 287.1 949.0 286.3 950.8 285.5C952.6 284.7 954.5 284.1 956.4 283.4C958.3 282.8 960.2 282.2 962.1 281.6C964.0 281.0 966.0 280.4 967.9 279.9C969.8 279.3 971.7 278.8 973.7 278.3C975.6 277.8 977.5 277.3 979.5 276.8C981.4 276.4 983.4 276.0 985.3 275.6C987.3 275.3 989.3 275.0 991.2 274.7C993.2 274.5 995.2 274.2 997.2 274.0C999.2 273.8 1001.1 273.7 1003.1 273.6C1005.1 273.5 1007.1 273.4 1009.1 273.4C1011.1 273.3 1013.1 273.4 1015.1 273.4C1017.1 273.5 1019.1 273.5 1021.1 273.6C1023.1 273.7 1025.0 273.9 1027.0 274.0C1029.0 274.1 1031.0 274.3 1033.0 274.5C1035.0 274.6 1037.0 274.8 1039.0 275.0C1041.0 275.2 1043.0 275.4 1045.0 275.6C1047.0 275.8 1048.9 276.0 1050.9 276.2C1052.9 276.4 1054.9 276.7 1056.9 276.9C1058.9 277.1 1060.9 277.4 1062.8 277.6C1064.8 277.8 1066.8 278.1 1068.8 278.4C1070.8 278.6 1072.8 278.9 1074.7 279.2C1076.7 279.5 1078.7 279.8 1080.7 280.1C1082.6 280.4 1084.6 280.7 1086.6 281.1C1088.6 281.4 1090.5 281.7 1092.5 282.1C1094.5 282.4 1096.4 282.8 1098.4 283.1C1100.4 283.5 1102.3 283.9 1104.3 284.2C1106.3 284.6 1108.2 285.0 1110.2 285.4C1112.1 285.8 1114.1 286.2 1116.0 286.7C1118.0 287.1 1119.9 287.6 1121.9 288.0C1123.8 288.5 1125.7 289.0 1127.7 289.5C1129.6 290.1 1131.5 290.6 1133.4 291.2C1135.4 291.7 1137.3 292.3 1139.2 292.9C1141.1 293.5 1143.0 294.1 1144.9 294.7C1146.8 295.3 1148.7 295.9 1150.6 296.5C1152.5 297.1 1154.4 297.7 1156.3 298.3C1158.2 298.9 1160.2 299.5 1162.1 300.2C1164.0 300.8 1165.8 301.4 1167.7 302.0C1169.6 302.7 1171.5 303.3 1173.4 304.0C1175.3 304.7 1177.2 305.3 1179.1 306.0C1180.9 306.7 1182.8 307.4 1184.7 308.1C1186.5 308.8 1188.4 309.6 1190.3 310.3C1192.1 311.0 1194.0 311.8 1195.8 312.5C1197.7 313.2 1199.6 314.0 1201.4 314.7C1203.3 315.5 1205.1 316.2 1207.0 317.0C1208.8 317.7 1210.7 318.5 1212.5 319.2C1214.4 320.0 1216.2 320.8 1218.1 321.5C1219.9 322.3 1221.8 323.0 1223.6 323.8C1225.5 324.6 1227.3 325.4 1229.2 326.1C1231.0 326.9 1232.8 327.7 1234.7 328.5C1236.5 329.3 1238.3 330.1 1240.2 330.9C1242.0 331.7 1243.8 332.5 1245.6 333.4C1247.5 334.2 1249.3 335.0 1251.1 335.9C1252.9 336.7 1254.7 337.6 1256.5 338.4C1258.3 339.3 1260.1 340.2 1261.9 341.0C1263.7 341.9 1265.5 342.8 1267.3 343.7C1269.1 344.6 1270.9 345.5 1272.7 346.4C1274.5 347.3 1276.2 348.2 1278.0 349.1C1279.8 350.0 1281.6 350.9 1283.4 351.8C1285.1 352.7 1286.9 353.7 1288.7 354.6C1290.4 355.5 1292.2 356.4 1293.9 357.3C1295.7 358.3 1297.4 359.2 1299.2 360.1C1300.9 361.0 1302.6 361.9 1304.3 362.8C1306.0 363.7 1307.7 364.6 1309.4 365.5C1311.1 366.3 1313.6 367.7 1314.4 368.1" fill="none" stroke="#0664c1" stroke-width="2.25" stroke-linecap="round" stroke-linejoin="round"/>
<path d="M894.0 403.1C894.7 402.4 896.9 400.4 898.4 399.0C899.8 397.6 901.2 396.2 902.6 394.8C904.1 393.4 905.4 391.9 906.9 390.5C908.4 389.2 909.8 387.8 911.4 386.6C913.0 385.4 914.6 384.2 916.3 383.2C918.0 382.2 919.8 381.4 921.7 380.7C923.6 380.1 925.5 379.6 927.5 379.2C929.4 378.8 931.4 378.6 933.4 378.3C935.4 378.0 937.4 377.8 939.3 377.6C941.3 377.3 943.3 377.1 945.3 376.9C947.3 376.8 949.3 376.6 951.3 376.4C953.3 376.2 955.3 376.0 957.2 375.7C959.2 375.4 961.2 375.0 963.1 374.6C965.1 374.1 967.0 373.6 968.9 373.0C970.8 372.5 972.7 371.8 974.6 371.1C976.4 370.3 978.3 369.5 980.1 368.8C982.0 368.0 983.8 367.3 985.7 366.5C987.5 365.8 989.4 365.0 991.2 364.3C993.1 363.5 995.0 362.8 996.8 362.1C998.7 361.3 1000.5 360.6 1002.4 359.9C1004.3 359.1 1006.1 358.4 1008.0 357.7C1009.9 357.0 1011.7 356.2 1013.6 355.5C1015.4 354.8 1017.3 354.0 1019.2 353.3C1021.0 352.6 1022.9 351.8 1024.7 351.1C1026.6 350.3 1028.4 349.6 1030.3 348.8C1032.1 348.1 1034.0 347.3 1035.8 346.5C1037.7 345.8 1039.5 345.0 1041.4 344.2C1043.2 343.4 1045.1 342.7 1046.9 341.9C1048.8 341.1 1050.6 340.4 1052.4 339.6C1054.3 338.8 1056.1 338.0 1058.0 337.2C1059.8 336.5 1061.6 335.7 1063.5 334.9C1065.3 334.1 1067.1 333.3 1069.0 332.5C1070.8 331.6 1072.6 330.8 1074.4 330.0C1076.2 329.2 1078.1 328.3 1079.9 327.4C1081.7 326.6 1083.5 325.7 1085.2 324.8C1087.0 323.9 1088.8 323.0 1090.6 322.1C1092.3 321.1 1094.1 320.2 1095.8 319.2C1097.6 318.2 1099.3 317.2 1101.1 316.2C1102.8 315.2 1104.5 314.2 1106.2 313.2C1107.9 312.1 1109.6 311.1 1111.3 310.0C1113.0 308.9 1114.6 307.8 1116.3 306.7C1118.0 305.6 1119.6 304.5 1121.3 303.4C1123.0 302.3 1124.6 301.2 1126.3 300.1C1127.9 298.9 1129.6 297.8 1131.2 296.7C1132.9 295.5 1134.5 294.4 1136.2 293.3C1137.8 292.1 1139.4 291.0 1141.1 289.8C1142.7 288.7 1144.4 287.5 1146.0 286.4C1147.6 285.2 1149.3 284.1 1150.9 282.9C1152.5 281.8 1154.2 280.6 1155.8 279.5C1157.4 278.3 1159.0 277.1 1160.6 275.9C1162.2 274.7 1163.8 273.5 1165.4 272.3C1167.0 271.1 1168.6 269.9 1170.1 268.6C1171.7 267.4 1173.2 266.2 1174.8 264.9C1176.4 263.7 1177.9 262.4 1179.5 261.2C1181.1 259.9 1182.6 258.7 1184.2 257.4C1185.7 256.2 1187.3 254.9 1188.8 253.7C1190.4 252.4 1191.9 251.2 1193.5 249.9C1195.0 248.6 1196.5 247.3 1198.1 246.0C1199.6 244.7 1201.1 243.4 1202.6 242.1C1204.1 240.7 1205.5 239.4 1207.0 238.0C1208.5 236.6 1209.9 235.3 1211.3 233.9C1212.8 232.5 1214.2 231.1 1215.6 229.7C1217.0 228.3 1218.5 226.9 1219.8 225.4C1221.2 224.0 1222.6 222.5 1224.0 221.1C1225.3 219.6 1226.7 218.1 1228.0 216.7C1229.4 215.2 1230.7 213.7 1232.0 212.2C1233.3 210.7 1234.6 209.1 1235.9 207.6C1237.1 206.1 1238.4 204.5 1239.7 203.0C1241.0 201.4 1242.2 199.9 1243.5 198.3C1244.7 196.8 1246.0 195.2 1247.2 193.7C1248.5 192.1 1249.8 190.6 1251.0 189.0C1252.3 187.4 1253.6 185.9 1254.8 184.4C1256.1 182.8 1257.4 181.3 1258.6 179.7C1259.9 178.2 1261.2 176.6 1262.5 175.1C1263.7 173.6 1265.0 172.0 1266.3 170.5C1267.6 168.9 1268.8 167.4 1270.1 165.9C1271.4 164.3 1272.7 162.8 1274.0 161.2C1275.2 159.7 1276.5 158.2 1277.8 156.6C1279.1 155.1 1280.4 153.6 1281.7 152.1C1283.0 150.5 1284.2 149.0 1285.5 147.5C1286.8 146.0 1288.1 144.5 1289.4 143.0C1290.7 141.5 1292.0 140.0 1293.3 138.6C1294.6 137.1 1295.9 135.7 1297.2 134.2C1298.4 132.8 1299.9 131.2 1301.0 130.0C1302.1 128.7 1303.3 127.3 1303.8 126.8" fill="none" stroke="#02ac4c" stroke-width="2.05" stroke-opacity="0.62" stroke-linecap="round" stroke-linejoin="round"/>
<path d="M873.3 436.8C874.1 436.2 876.4 434.3 878.0 433.0C879.5 431.8 881.1 430.5 882.7 429.3C884.2 428.0 885.8 426.8 887.3 425.5C888.9 424.3 890.5 423.0 892.0 421.8C893.6 420.6 895.2 419.3 896.8 418.1C898.3 416.9 899.9 415.7 901.5 414.5C903.1 413.3 904.7 412.1 906.3 410.9C908.0 409.7 909.6 408.6 911.2 407.4C912.9 406.3 914.5 405.2 916.2 404.1C917.9 403.0 919.6 401.9 921.3 400.9C922.9 399.8 924.7 398.8 926.4 397.8C928.1 396.7 929.8 395.8 931.6 394.8C933.3 393.8 935.1 392.8 936.8 391.9C938.6 390.9 940.3 389.9 942.1 389.0C943.8 388.0 945.6 387.1 947.4 386.2C949.1 385.2 950.9 384.3 952.7 383.3C954.4 382.4 956.2 381.4 957.9 380.5C959.7 379.5 961.4 378.5 963.2 377.6C965.0 376.6 966.7 375.7 968.5 374.7C970.2 373.8 972.0 372.8 973.8 371.9C975.5 371.0 977.3 370.0 979.1 369.1C980.8 368.2 982.6 367.3 984.4 366.3C986.2 365.4 988.0 364.5 989.7 363.6C991.5 362.7 993.3 361.8 995.1 360.9C996.9 360.0 998.7 359.2 1000.5 358.3C1002.3 357.4 1004.1 356.5 1005.9 355.6C1007.7 354.7 1009.5 353.9 1011.3 353.0C1013.0 352.1 1014.8 351.2 1016.6 350.3C1018.4 349.5 1020.2 348.6 1022.0 347.7C1023.8 346.8 1025.6 345.9 1027.4 345.0C1029.2 344.1 1031.0 343.2 1032.8 342.3C1034.5 341.4 1036.3 340.5 1038.1 339.6C1039.9 338.7 1041.6 337.8 1043.4 336.8C1045.2 335.9 1046.9 334.9 1048.7 334.0C1050.4 333.0 1052.2 332.0 1053.9 331.1C1055.7 330.1 1057.4 329.1 1059.2 328.1C1060.9 327.1 1062.6 326.2 1064.4 325.2C1066.1 324.2 1067.9 323.2 1069.6 322.2C1071.3 321.2 1073.1 320.2 1074.8 319.2C1076.5 318.2 1078.3 317.3 1080.0 316.3C1081.8 315.3 1083.5 314.3 1085.2 313.3C1087.0 312.3 1088.7 311.3 1090.5 310.3C1092.2 309.3 1093.9 308.3 1095.6 307.3C1097.4 306.3 1099.1 305.3 1100.8 304.2C1102.5 303.2 1104.2 302.1 1105.9 301.1C1107.5 300.0 1109.2 298.9 1110.9 297.8C1112.5 296.7 1114.2 295.5 1115.8 294.4C1117.5 293.2 1119.1 292.1 1120.7 290.9C1122.3 289.7 1123.9 288.5 1125.5 287.3C1127.0 286.0 1128.6 284.8 1130.1 283.5C1131.7 282.3 1133.2 281.0 1134.8 279.7C1136.3 278.4 1137.8 277.1 1139.3 275.8C1140.8 274.5 1142.3 273.2 1143.8 271.9C1145.3 270.6 1146.8 269.2 1148.3 267.9C1149.8 266.6 1151.3 265.2 1152.8 263.9C1154.3 262.5 1155.8 261.2 1157.2 259.9C1158.7 258.5 1160.2 257.2 1161.7 255.8C1163.1 254.5 1164.6 253.1 1166.1 251.7C1167.6 250.4 1169.0 249.0 1170.5 247.7C1172.0 246.3 1173.4 245.0 1174.9 243.6C1176.4 242.3 1177.9 240.9 1179.3 239.6C1180.8 238.2 1182.3 236.9 1183.8 235.5C1185.2 234.1 1186.7 232.8 1188.2 231.4C1189.6 230.1 1191.1 228.7 1192.5 227.3C1194.0 225.9 1195.4 224.6 1196.9 223.2C1198.3 221.8 1199.7 220.4 1201.2 219.0C1202.6 217.6 1204.0 216.2 1205.4 214.7C1206.8 213.3 1208.2 211.9 1209.6 210.4C1210.9 209.0 1212.3 207.5 1213.7 206.1C1215.1 204.6 1216.4 203.1 1217.8 201.7C1219.1 200.2 1220.5 198.7 1221.8 197.3C1223.2 195.8 1224.5 194.3 1225.8 192.8C1227.2 191.3 1228.5 189.8 1229.9 188.3C1231.2 186.8 1232.5 185.4 1233.8 183.9C1235.2 182.4 1236.5 180.9 1237.8 179.4C1239.2 177.9 1240.5 176.4 1241.8 174.9C1243.1 173.4 1244.5 171.9 1245.8 170.4C1247.1 168.9 1248.4 167.4 1249.7 165.9C1251.1 164.4 1252.4 162.9 1253.7 161.4C1255.0 159.9 1256.3 158.4 1257.6 156.9C1259.0 155.3 1260.3 153.8 1261.6 152.3C1262.9 150.8 1264.2 149.3 1265.5 147.8C1266.9 146.3 1268.2 144.8 1269.5 143.3C1270.8 141.8 1272.1 140.3 1273.4 138.7C1274.7 137.2 1276.0 135.7 1277.3 134.2C1278.6 132.6 1279.9 131.1 1281.1 129.6C1282.4 128.1 1283.7 126.5 1285.0 125.0C1286.3 123.5 1287.6 121.9 1288.8 120.4C1290.1 118.8 1291.4 117.3 1292.7 115.8C1294.0 114.2 1295.2 112.7 1296.5 111.2C1297.8 109.6 1299.1 108.1 1300.3 106.5C1301.6 105.0 1302.9 103.5 1304.1 101.9C1305.4 100.4 1306.7 98.9 1307.9 97.3C1309.2 95.8 1310.6 94.1 1311.7 92.7C1312.8 91.4 1314.0 89.9 1314.5 89.3" fill="none" stroke="#0070c0" stroke-width="2.05" stroke-opacity="0.6" stroke-linecap="round" stroke-linejoin="round"/>
<text y="27.3" class="t"><tspan x="819.9" textLength="66.3" lengthAdjust="spacingAndGlyphs">Cascode</tspan> <tspan x="891.1" textLength="34.8" lengthAdjust="spacingAndGlyphs">GaN</tspan> <tspan x="930.8" textLength="88.7" lengthAdjust="spacingAndGlyphs">Transistors</tspan> <tspan x="1023.4" textLength="14.4" lengthAdjust="spacingAndGlyphs">in</tspan> <tspan x="1042.7" textLength="52.1" lengthAdjust="spacingAndGlyphs">Totem</tspan> <tspan x="1097.7" textLength="35.8" lengthAdjust="spacingAndGlyphs">Pole</tspan> <tspan x="1137.9" textLength="29.7" lengthAdjust="spacingAndGlyphs">PFC</tspan> <tspan x="1171.5" textLength="17.4" lengthAdjust="spacingAndGlyphs">vs</tspan> <tspan x="1193.8" textLength="37.9" lengthAdjust="spacingAndGlyphs">CCM</tspan> <tspan x="1236.1" textLength="29.8" lengthAdjust="spacingAndGlyphs">PFC</tspan> <tspan x="1270.1" textLength="36.5" lengthAdjust="spacingAndGlyphs">(110</tspan> <tspan x="1309.8" textLength="33.8" lengthAdjust="spacingAndGlyphs">Vac,</tspan> <tspan x="1348.5" textLength="20.5" lengthAdjust="spacingAndGlyphs">60</tspan> <tspan x="1374.0" textLength="24.5" lengthAdjust="spacingAndGlyphs">Hz)</tspan></text>
<text x="1120.5" y="532.4" text-anchor="middle" textLength="150" lengthAdjust="spacingAndGlyphs" class="t">Output power (W)</text>
<text transform="translate(766.4 260.4) rotate(-90)" text-anchor="middle" textLength="108.4" lengthAdjust="spacingAndGlyphs" class="t">Efficiency (%)</text>
<text transform="translate(1473.4 260.5) rotate(-90)" text-anchor="middle" textLength="131.0" lengthAdjust="spacingAndGlyphs" class="t">Temperature (C)</text>
</g>
<!-- watermark -->
<g fill="#b467cd">
<text x="672.4" y="518.9" textLength="116.8" lengthAdjust="spacingAndGlyphs" class="w1">COMPOTECH</text>
<text x="790.6" y="519.3" textLength="18.6" lengthAdjust="spacingAndGlyphs" class="w2">Asia</text>
<text x="674.2" y="532.6" textLength="47.6" lengthAdjust="spacingAndGlyphs" class="w3">智慧電子設計</text>
<text x="721.8" y="532.4" textLength="87.4" lengthAdjust="spacingAndGlyphs" class="w4">www.compotechasia.com</text>
</g>
<!-- frame -->
<rect x="0" y="0" width="737" height="3" fill="#000"/>
<rect x="0" y="0" width="1.2" height="540" fill="#858585"/>
<rect x="737" y="0" width="1" height="540" fill="#828282"/>
<rect x="737" y="0" width="745" height="1" fill="#858585"/>
<rect x="0" y="538.6" width="1482" height="1.4" fill="#858585"/>
<rect x="1480.7" y="0" width="1.3" height="540" fill="#858585"/>
</svg>
</body>
</html>
